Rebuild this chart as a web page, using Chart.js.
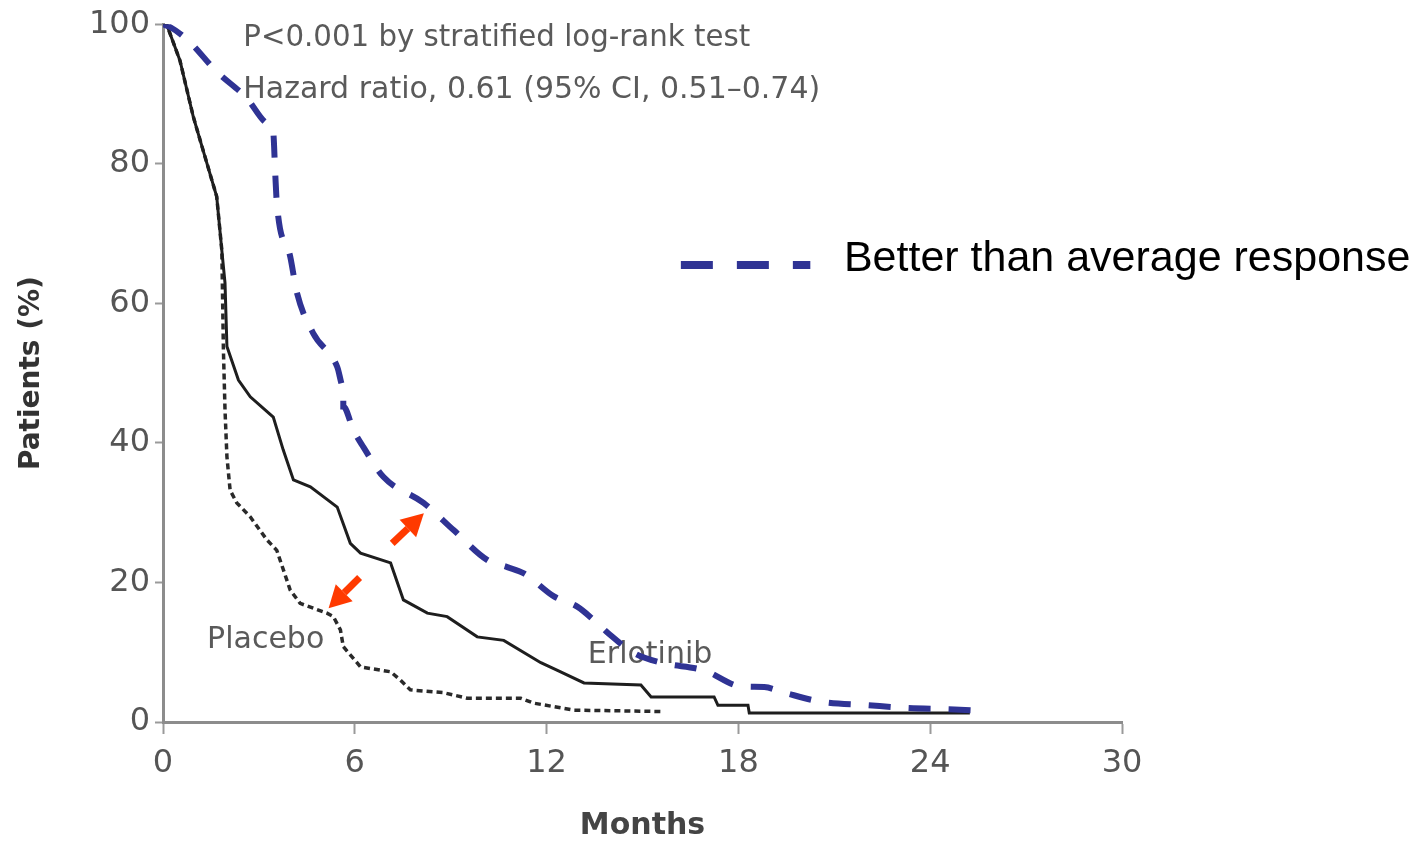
<!DOCTYPE html>
<html lang="en">
<head>
<meta charset="UTF-8">
<title>Progression-free survival</title>
<script src="https://cdn.jsdelivr.net/npm/chart.js"></script>
<style>
  html, body { margin: 0; padding: 0; background: #fff; }
  #wrap { width: 1422px; height: 842px; position: relative; }
</style>
</head>
<body>
<div id="wrap"><canvas id="chart"></canvas></div>
<script>
// months / percent of patients
const betterMonths = [0, 0.22, 0.78, 1.68, 2.62, 3.25, 3.45, 3.51, 3.56, 3.98, 4.19, 4.70, 5.45, 5.64, 5.64, 5.96, 6.27, 6.90, 8.15, 9.09, 10.15, 10.77, 11.29, 12.23, 12.97, 13.48, 13.91, 14.73, 15.58, 16.93, 18.09, 18.81, 19.44, 20.6, 22.06, 23.31, 24.76, 25.61];
const betterPct    = [100, 99.6, 97.7, 93.2, 89.4, 85.8, 84.4, 78.7, 74.4, 66.7, 61.5, 55.7, 50.9, 48.0, 45.2, 41.8, 39.4, 35.1, 31.4, 27.5, 23.2, 22.2, 21.3, 18.0, 16.5, 14.6, 12.8, 9.9, 8.5, 7.4, 5.1, 5.0, 4.2, 2.9, 2.4, 2.0, 1.8, 1.6];

const erlotinibMonths = [0, 0.12, 0.53, 0.95, 1.25, 1.68, 1.84, 1.94, 2.0, 2.36, 2.73, 3.45, 3.76, 4.08, 4.61, 5.45, 5.86, 6.18, 7.12, 7.52, 8.27, 8.89, 9.83, 10.66, 11.82, 12.34, 13.17, 14.95, 15.27, 17.24, 17.36, 18.3, 18.34, 25.24];
const erlotinibPct    = [100, 99.9, 94.8, 86.7, 82.0, 75.3, 67.6, 62.9, 53.8, 49.0, 46.6, 43.7, 39.0, 34.7, 33.7, 30.8, 25.6, 24.2, 22.8, 17.5, 15.6, 15.1, 12.2, 11.7, 8.5, 7.4, 5.6, 5.3, 3.6, 3.6, 2.4, 2.4, 1.3, 1.3];

const placeboMonths = [0, 0.12, 0.53, 0.95, 1.25, 1.68, 1.84, 1.89, 1.94, 2.0, 2.1, 2.31, 2.73, 3.25, 3.56, 3.98, 4.29, 5.13, 5.33, 5.55, 5.64, 6.18, 7.12, 7.43, 7.74, 8.78, 9.52, 11.19, 11.6, 12.85, 15.67];
const placeboPct    = [100, 99.9, 94.8, 86.7, 82.0, 75.3, 67.6, 53.3, 44.7, 38.0, 33.2, 31.4, 29.4, 26.1, 24.6, 18.9, 17.0, 15.6, 15.1, 13.2, 10.8, 7.9, 7.2, 6.0, 4.6, 4.2, 3.4, 3.4, 2.7, 1.7, 1.5];

const monthTicks   = [0, 6, 12, 18, 24, 30];
const percentTicks = [0, 20, 40, 60, 80, 100];

const statLines = ['P<0.001 by stratified log-rank test', 'Hazard ratio, 0.61 (95% CI, 0.51\u20130.74)'];
const curveNames = ['Placebo', 'Erlotinib'];
const legendLabel = 'Better than average response';

// red arrows: [tail month, tail pct, tip month, tip pct]
const arrows = [
  [7.17, 25.6, 8.16, 29.9],
  [6.15, 20.7, 5.18, 16.3]
];

const BLUE = '#2f3394';

function pts(xs, ys) { return xs.map((v, i) => ({ x: v, y: ys[i] })); }

const notesPlugin = {
  id: 'notes',
  beforeDatasetsDraw(chart) {
    const { ctx, scales: { x, y } } = chart;
    ctx.save();
    ctx.textBaseline = 'middle';
    ctx.textAlign = 'left';
    ctx.fillStyle = '#5a5a5a';
    ctx.font = '30px "DejaVu Sans"';
    ctx.fillText(statLines[0], x.getPixelForValue(2.51), y.getPixelForValue(98.0), 507);
    ctx.fillText(statLines[1], x.getPixelForValue(2.51), y.getPixelForValue(90.5), 577);
    ctx.fillText(curveNames[0], x.getPixelForValue(1.38), y.getPixelForValue(11.7));
    ctx.fillText(curveNames[1], x.getPixelForValue(13.29), y.getPixelForValue(9.6));

    // legend for the blue curve
    const ly = y.getPixelForValue(65.5);
    ctx.strokeStyle = BLUE;
    ctx.lineWidth = 8;
    ctx.setLineDash([32, 24]);
    ctx.beginPath();
    ctx.moveTo(x.getPixelForValue(16.2), ly);
    ctx.lineTo(x.getPixelForValue(20.25), ly);
    ctx.stroke();
    ctx.setLineDash([]);
    ctx.fillStyle = '#000';
    ctx.font = '43px "Liberation Sans", Arial, sans-serif';
    ctx.fillText(legendLabel, x.getPixelForValue(21.3), y.getPixelForValue(66.4));
    ctx.restore();
  },
  afterDatasetsDraw(chart) {
    const { ctx, scales: { x, y } } = chart;
    ctx.save();
    ctx.fillStyle = '#ff3a00';
    ctx.strokeStyle = '#ff3a00';
    arrows.forEach(a => {
      const x0 = x.getPixelForValue(a[0]), y0 = y.getPixelForValue(a[1]);
      const x1 = x.getPixelForValue(a[2]), y1 = y.getPixelForValue(a[3]);
      const ang = Math.atan2(y1 - y0, x1 - x0);
      const head = 22, half = 12;
      const bx = x1 - head * Math.cos(ang), by = y1 - head * Math.sin(ang);
      ctx.lineWidth = 7;
      ctx.beginPath();
      ctx.moveTo(x0, y0);
      ctx.lineTo(bx, by);
      ctx.stroke();
      ctx.beginPath();
      ctx.moveTo(x1, y1);
      ctx.lineTo(bx + half * Math.sin(ang), by - half * Math.cos(ang));
      ctx.lineTo(bx - half * Math.sin(ang), by + half * Math.cos(ang));
      ctx.closePath();
      ctx.fill();
    });
    ctx.restore();
  }
};

new Chart(document.getElementById('chart'), {
  type: 'line',
  data: {
    datasets: [
      {
        label: legendLabel,
        data: pts(betterMonths, betterPct),
        borderColor: BLUE,
        borderWidth: 6,
        borderDash: [22, 18],
        cubicInterpolationMode: 'monotone',
        pointRadius: 0
      },
      {
        label: 'Erlotinib',
        data: pts(erlotinibMonths, erlotinibPct),
        borderColor: '#1e1e1e',
        borderWidth: 3,
        tension: 0,
        pointRadius: 0
      },
      {
        label: 'Placebo',
        data: pts(placeboMonths, placeboPct),
        borderColor: '#2a2a2a',
        borderWidth: 3.5,
        borderDash: [6, 4],
        tension: 0,
        pointRadius: 0
      }
    ]
  },
  options: {
    responsive: true,
    maintainAspectRatio: false,
    animation: false,
    layout: { padding: { left: 15, top: 24, right: 300, bottom: 0 } },
    plugins: { legend: { display: false }, tooltip: { enabled: false } },
    scales: {
      x: {
        type: 'linear',
        min: 0, max: 30,
        afterFit: s => { s.height = 120; },
        afterBuildTicks: s => { s.ticks = monthTicks.map(v => ({ value: v })); },
        border: { display: true, color: '#8c8c8c', width: 3 },
        grid: { drawOnChartArea: false, drawTicks: true, tickLength: 12, tickColor: '#9a9a9a', tickWidth: 2 },
        ticks: { color: '#555', padding: 10, font: { family: 'DejaVu Sans', size: 32 }, maxRotation: 0 },
        title: { display: true, text: 'Months', color: '#444', padding: { top: 0, bottom: 1 },
                 font: { family: 'DejaVu Sans', size: 30, weight: 'bold', lineHeight: 1 } }
      },
      y: {
        type: 'linear',
        min: 0, max: 100,
        afterFit: s => { s.width = 148; },
        afterBuildTicks: s => { s.ticks = percentTicks.map(v => ({ value: v })); },
        border: { display: true, color: '#8c8c8c', width: 3 },
        grid: { drawOnChartArea: false, drawTicks: true, tickLength: 8, tickColor: '#9a9a9a', tickWidth: 2 },
        ticks: { color: '#555', padding: 5, font: { family: 'DejaVu Sans', size: 32 } },
        title: { display: true, text: 'Patients (%)', color: '#333', padding: { top: 3, bottom: 0 },
                 font: { family: 'DejaVu Sans', size: 28, weight: 'bold', lineHeight: 1 } }
      }
    }
  },
  plugins: [notesPlugin]
});
</script>
</body>
</html>
